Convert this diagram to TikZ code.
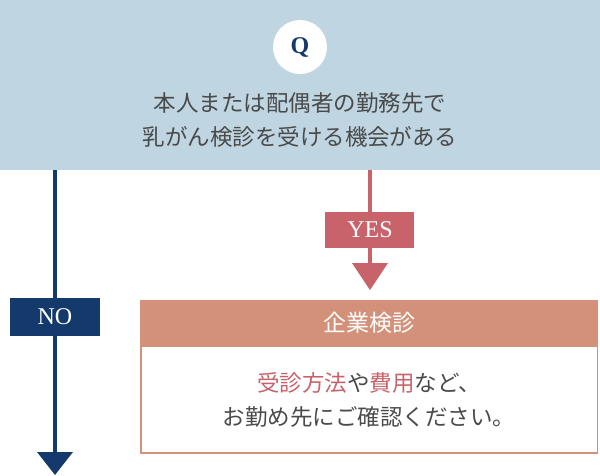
\documentclass[tikz,border=0pt]{standalone}
\usepackage{fontspec}
\newfontfamily\jp{Noto Sans CJK JP}
\setmainfont{Liberation Serif}
\usetikzlibrary{positioning}
\definecolor{topbg}{HTML}{BFD5E1}
\definecolor{navy}{HTML}{143A6B}
\definecolor{rose}{HTML}{C9636B}
\definecolor{salmon}{HTML}{D4917A}
\definecolor{txt}{HTML}{4A4A4A}
\begin{document}
\begin{tikzpicture}[x=1pt,y=-1pt,
  tag/.style={text=white,font=\fontsize{24}{24}\selectfont,inner sep=0pt},
  jtext/.style={text=txt,font=\jp\fontsize{22.5}{34}\selectfont,align=center}]
\useasboundingbox (0,0) rectangle (600,475);
% question
\fill[topbg] (0,0) rectangle (600,170);
\fill[white] (300,47) circle (27);
\node[text=navy,font=\bfseries\fontsize{24}{24}\selectfont] (q) at (300,47) {Q};
\node[jtext] (ques) at (300,120) {本人または配偶者の勤務先で\\乳がん検診を受ける機会がある};
% no branch
\coordinate (nostart) at (55,170);
\coordinate (noend) at (55,452);
\draw[navy,line width=4] (nostart) -- (noend);
\fill[navy] (37,452) -- (73,452) -- (55,475) -- cycle;
\fill[navy] (10,298) rectangle (100,336);
\node[tag] (no) at (55,317) {NO};
% yes branch
\coordinate (yesstart) at (370,170);
\coordinate (yesend) at (370,263);
\draw[rose,line width=4] (yesstart) -- (yesend);
\fill[rose] (325,212) rectangle (414,248);
\node[tag] (yes) at (370,230) {YES};
\fill[rose] (352,263) -- (388,263) -- (370,290) -- cycle;
% answer
\fill[salmon] (140,300) rectangle (598,346);
\node[text=white,font=\jp\fontsize{23}{23}\selectfont] (head) at (369,323) {企業検診};
\draw[salmon,line width=1.5] (140.75,346) rectangle (597.25,453);
\node[jtext] (ans) at (369,400) {\textcolor{rose}{受診方法}や\textcolor{rose}{費用}など、\\お勤め先にご確認ください。};
\end{tikzpicture}
\end{document}
